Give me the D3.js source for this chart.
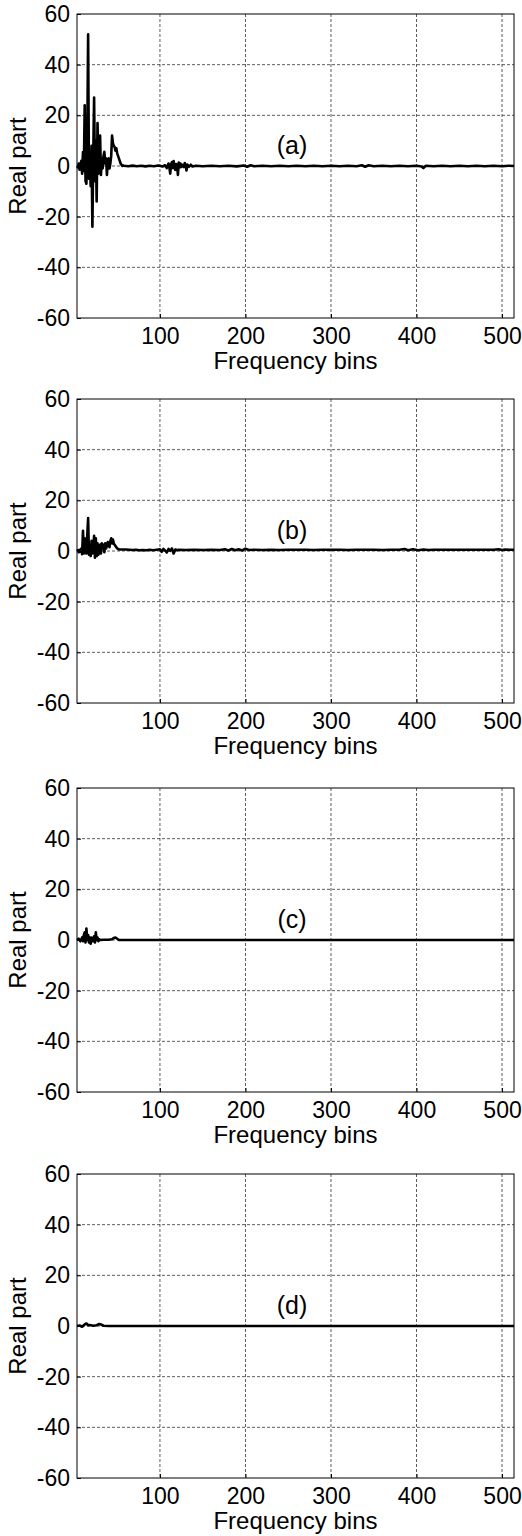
<!DOCTYPE html>
<html>
<head>
<meta charset="utf-8">
<script src="https://cdn.jsdelivr.net/npm/d3@7"></script>
<style>
  body { margin: 0; background: #fff; }
  text { font-family: "Liberation Sans", Arial, Helvetica, sans-serif; fill: #000; }
</style>
</head>
<body>
<div id="chart"></div>
<script>
const canvas_w = 522;
const canvas_h = 1536;

// tick labels and panel names
const xTicks = [100, 200, 300, 400, 500];
const yTicks = [-60, -40, -20, 0, 20, 40, 60];
const panelNames = ['(a)', '(b)', '(c)', '(d)'];

// [frequency bin, real part]
const seriesA = [
  [3,0],[4,-0.5],[5,1],[6,-1.5],[7,0.5],[8,2],[9,-3],[10,5.5],[11,-2],[12,24],
  [13,-6],[14,-7],[15,10],[16,52],[17,-5],[18,3],[19,-8],[20,8],[21,-24],[22,4],
  [23,27],[24,-6],[25,10],[26,-14],[27,17],[28,-3],[29,2],[30,12],[31,-3.5],[32,3],
  [33,-1],[34,4],[35,5.6],[36,1],[37,3],[38,-3.5],[39,2],[40,3],[41,-1],[42,1],
  [43,4],[44,12],[45,9],[46,8],[47,7.5],[48,6],[49,7],[50,5],[51,4],[52,3],
  [53,2],[54,1],[55,0.5],[56,0],[57,0.2],
  [58,0.1],[63,-0.1],[68,0.15],[73,-0.1],[78,0.1],[83,-0.15],[88,0.1],[93,-0.1],
  [98,0.2],[103,-0.2],[106,0.3],[108,-0.8],[110,1],[111,-0.5],[112,-3],
  [113,0.8],[114,1.5],[115,-0.8],[116,2],[117,-0.5],[118,-1.5],[119,0.8],[120,0.4],
  [121,-3.5],[122,1.4],[123,-0.6],[124,1],[125,-0.4],[126,0.5],[128,-0.4],[129,1.2],
  [130,0.3],[131,-1.8],[132,0.6],[134,-0.3],[136,0.5],[138,-0.2],[142,0.1],[150,-0.1],
  [160,0.1],[170,-0.1],[180,0.1],[190,-0.15],[198,0.2],[202,-0.3],[206,0.3],[210,-0.1],
  [220,0.1],[230,-0.1],[240,0.1],[250,-0.1],[260,0.1],[270,-0.1],[280,0.1],[290,-0.1],
  [300,0.1],[310,-0.1],[320,0.1],[330,-0.1],[336,0.3],[340,-0.3],[344,0.3],[350,-0.1],
  [360,0.1],[370,-0.1],[380,0.1],[390,-0.1],[400,0.1],[406,-0.2],[408,-0.8],[411,0.1],
  [420,-0.1],[430,0.1],[440,-0.1],[450,0.1],[460,-0.1],[470,0.1],[480,-0.1],[490,0.1],
  [500,-0.1],[508,0.1],[514,0]
];

const seriesB = [
  [3,0],[4,0.3],[5,-0.5],[6,0.5],[7,-0.3],[8,1],[9,-1.3],[10,8],[11,-1],[12,5],
  [13,3],[14,-1],[15,6],[16,13],[17,-1.5],[18,2],[19,-2],[20,4],[21,-1],[22,1],
  [23,6],[24,-2.6],[25,5],[26,-2],[27,3],[28,-1.5],[29,2],[30,2.5],[31,-1],[32,3],
  [33,1],[34,2.5],[35,-0.5],[36,3],[37,1],[38,2],[39,3.5],[40,2.5],[41,1.5],[42,4],
  [43,5],[44,3],[45,4.5],[46,3],[47,2.5],[48,2],[49,1.5],[50,1],[51,0.8],[52,0.6],
  [56,0.6],[60,0.6],[64,0.5],[68,0.4],[72,0.5],[76,0.3],[80,0.4],[84,0.3],[88,0.5],
  [92,0.3],[96,0.5],[100,0.7],[102,-0.3],[104,0.8],[106,0.2],[108,-0.6],[110,0.8],
  [112,0.1],[114,1],[116,-1],[118,0.6],[120,0.3],[122,0.5],[130,0.4],[140,0.5],
  [150,0.4],[160,0.5],[170,0.4],[176,0.7],[180,0.2],[184,0.8],[188,0.3],[192,0.7],
  [196,0.2],[200,0.9],[204,0.4],[210,0.5],[220,0.4],[230,0.5],[240,0.4],[250,0.5],
  [260,0.5],[270,0.5],[280,0.4],[290,0.5],[300,0.5],[310,0.5],[320,0.4],[330,0.5],
  [340,0.5],[350,0.5],[360,0.4],[370,0.5],[380,0.5],[386,0.8],[390,0.3],[396,0.7],
  [402,0.3],[408,0.6],[414,0.4],[420,0.5],[430,0.5],[440,0.5],[450,0.5],[460,0.5],
  [470,0.5],[480,0.5],[490,0.5],[496,0.7],[500,0.4],[504,0.6],[508,0.5],[514,0.5]
];

const seriesC = [
  [3,0],[5,0.5],[7,-0.5],[9,1],[10,-0.5],[11,2],[12,3],[13,-1],[14,4.5],[15,0],
  [16,2],[17,-1],[18,1],[19,-1.5],[20,1],[21,0.5],[22,-0.5],[23,1.5],[24,-1],[25,3],
  [26,0],[27,1],[28,-0.5],[29,0.3],[30,0],[34,0.1],[40,0.1],[44,0.3],[46,0.8],
  [48,1],[50,0.5],[52,0],[100,0],[200,0],[300,0],[400,0],[514,0]
];

const seriesD = [
  [3,0],[6,0.2],[9,-0.3],[12,0.6],[14,1],[16,0.3],[18,0.4],[22,0.1],[26,0.3],
  [29,0.8],[31,0.6],[34,0.1],[40,0],[100,0],[200,0],[300,0],[400,0],[514,0]
];

const allSeries = [seriesA, seriesB, seriesC, seriesD];

// layout
const plotLeft  = 77;
const plotRight = 514;
const plotH     = 304;
const panelTops = [14, 399, 788, 1174];

let x = d3.scaleLinear()
          .domain([3, 514])
          .range([plotLeft, plotRight]);

let y = d3.scaleLinear()
          .domain([-60, 60])
          .range([plotH, 0]);

let line = d3.line()
             .x(d => x(d[0]))
             .y(d => y(d[1]));

let svg = d3.select('#chart')
            .append('svg')
            .attr('width', canvas_w)
            .attr('height', canvas_h);

allSeries.forEach(function (series, i) {
    let g = svg.append('g')
               .attr('transform', 'translate(0,' + panelTops[i] + ')');

    // grid
    g.selectAll('.vgrid')
     .data(xTicks)
     .enter()
     .append('line')
     .attr('x1', d => x(d)).attr('x2', d => x(d))
     .attr('y1', 0).attr('y2', plotH)
     .attr('stroke', '#333')
     .attr('stroke-width', 0.8)
     .attr('stroke-dasharray', '3,2');

    g.selectAll('.hgrid')
     .data(yTicks.filter(t => t > -60 && t < 60))
     .enter()
     .append('line')
     .attr('x1', plotLeft).attr('x2', plotRight)
     .attr('y1', d => y(d)).attr('y2', d => y(d))
     .attr('stroke', '#333')
     .attr('stroke-width', 0.8)
     .attr('stroke-dasharray', '3,2');

    // axes (plain hyphen for negatives, like the original)
    let xAxis = d3.axisBottom(x)
                  .tickValues(xTicks)
                  .tickFormat(d => String(d))
                  .tickSizeInner(-4)
                  .tickSizeOuter(0)
                  .tickPadding(10);

    let yAxis = d3.axisLeft(y)
                  .tickValues(yTicks)
                  .tickFormat(d => String(d))
                  .tickSizeInner(-4)
                  .tickSizeOuter(0)
                  .tickPadding(7);

    g.append('g')
     .attr('transform', 'translate(0,' + plotH + ')')
     .call(xAxis)
     .call(a => a.select('.domain').remove())
     .selectAll('text')
     .style('font-size', '23px')
     .style('font-family', '"Liberation Sans", Arial, sans-serif');

    g.append('g')
     .attr('transform', 'translate(' + plotLeft + ',0)')
     .call(yAxis)
     .call(a => a.select('.domain').remove())
     .selectAll('text')
     .style('font-size', '23px')
     .style('font-family', '"Liberation Sans", Arial, sans-serif');

    // data
    g.append('path')
     .datum(series)
     .attr('d', line)
     .attr('fill', 'none')
     .attr('stroke', '#000')
     .attr('stroke-width', 2.6)
     .attr('stroke-linejoin', 'round');

    // box
    g.append('rect')
     .attr('x', plotLeft)
     .attr('y', 0)
     .attr('width', plotRight - plotLeft)
     .attr('height', plotH)
     .attr('fill', 'none')
     .attr('stroke', '#000')
     .attr('stroke-width', 1);

    // labels
    g.append('text')
     .attr('x', (plotLeft + plotRight) / 2)
     .attr('y', plotH + 51)
     .attr('text-anchor', 'middle')
     .style('font-size', '24px')
     .text('Frequency bins');

    g.append('text')
     .attr('transform', 'translate(26,' + (plotH / 2) + ') rotate(-90)')
     .attr('text-anchor', 'middle')
     .style('font-size', '24px')
     .text('Real part');

    g.append('text')
     .attr('x', 292)
     .attr('y', y(0) - 12)
     .attr('text-anchor', 'middle')
     .style('font-size', '25px')
     .text(panelNames[i]);
});
</script>
</body>
</html>
